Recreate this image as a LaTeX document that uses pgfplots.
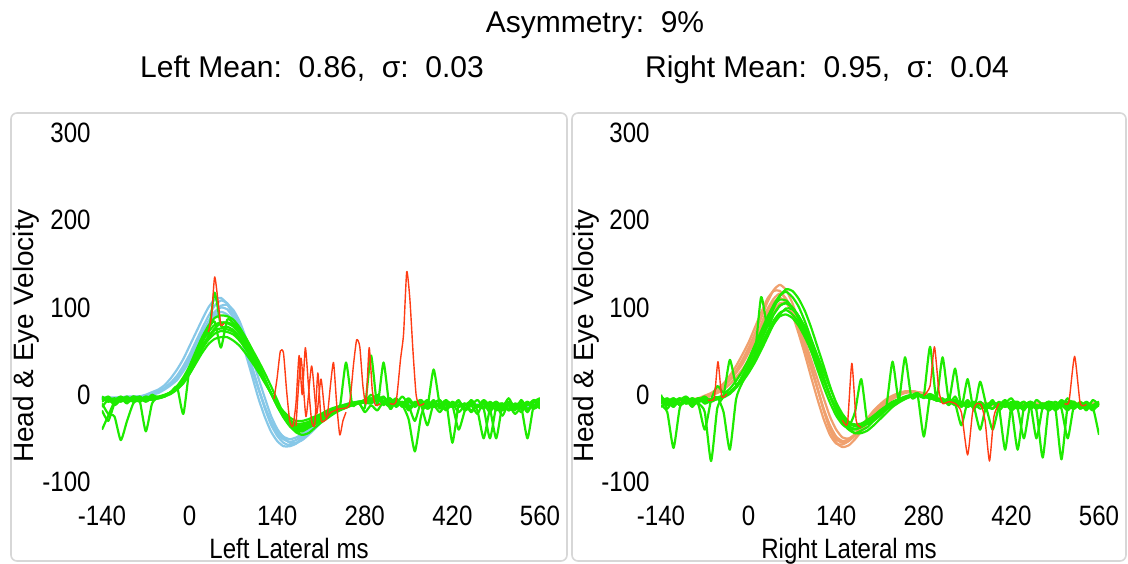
\documentclass[border=0pt]{standalone}
\usepackage{pgfplots}
\pgfplotsset{compat=1.18}
\usepackage{pgfplotstable}
\usepackage{fontspec}
\setmainfont{Liberation Sans}
\newfontfamily\tickfont{Liberation Sans}[FakeStretch=0.86]
\definecolor{eyegreen}{RGB}{30,235,0}
\definecolor{headblue}{RGB}{135,200,232}
\definecolor{headorange}{RGB}{240,160,110}
\definecolor{sacred}{RGB}{255,60,20}
\definecolor{boxgray}{RGB}{215,215,215}

\pgfplotstableread{
t b1 b2 b3 b4 b5 g1 g2 g3 g4 g5 g6 g7 g8
-140 -4 -4 -5 -4 -3 -10 -2 -40 -6 -14 -8 -18 -4
-130 -4 -4 -5 -4 -3 -22 -6 -24 -2 -6 -4 -30 -8
-120 -4 -4 -4 -4 -3 -25 -4 -8 -8 -10 -12 -10 -6
-110 -3 -3 -4 -3 -3 -52 -8 -4 -4 -4 -6 -6 -2
-100 -3 -3 -3 -3 -2 -30 -4 -10 -6 -8 -2 -4 -6
-90 -3 -3 -3 -3 -2 -10 -6 -2 -2 -6 -8 -8 -4
-80 -2 -2 -2 -2 -2 -4 -6 -6 -4 -2 -4 -6 -8
-70 -1 -1 0 -2 -1 -6 -42 -4 -8 -6 -6 -2 -4
-60 1 1 3 0 1 -2 -10 -6 -4 0 -2 -4 -6
-50 4 4 6 2 4 -2 -3 -3 -4 -4 -3 -3 -4
-40 8 7 11 6 7 0 -1 -1 -2 -2 -1 -1 -2
-30 14 13 19 11 12 3 3 3 2 3 3 3 1
-20 22 20 29 17 19 9 8 10 7 9 9 8 6
-10 33 31 41 27 29 18 16 20 14 17 -22 17 13
0 46 43 56 38 40 30 26 33 24 28 31 28 24
10 61 57 71 52 54 45 40 50 36 43 47 41 37
20 76 71 86 66 67 60 53 66 48 57 63 55 52
30 90 84 100 81 79 72 63 79 58 68 76 66 66
40 102 95 109 93 90 80 70 88 64 117 84 74 76
50 108 100 111 102 95 83 73 91 66 79 54 76 82
60 105 98 104 103 92 82 72 90 66 78 86 75 83
70 95 88 90 97 84 78 69 86 62 74 82 72 80
80 78 73 70 84 69 70 62 77 56 66 74 64 74
90 56 52 46 65 49 59 52 65 47 56 62 54 65
100 32 30 21 43 28 46 40 51 37 44 48 42 52
110 8 7 -4 19 7 32 28 35 26 30 34 29 39
120 -15 -14 -25 -3 -13 17 15 19 14 16 18 16 25
130 -34 -32 -42 -24 -30 2 2 2 2 2 2 2 10
140 -47 -44 -53 -39 -41 -12 -11 -13 -10 -11 -13 -11 -6
150 -55 -51 -59 -49 -48 -24 -21 -26 -19 -23 -25 -22 -22
160 -58 -54 -59 -55 -51 -33 -29 -36 -26 -31 -35 -30 -35
170 -56 -52 -56 -55 -49 -38 -33 -42 -30 -36 -40 -35 -43
180 -51 -47 -49 -52 -45 -38 -33 -42 -30 -36 -40 -35 -46
190 -44 -41 -42 -46 -39 -35 -31 -38 -28 -33 -37 -32 -44
200 -37 -34 -35 -39 -33 -31 -27 -34 -25 -29 -33 -29 -38
210 -30 -28 -28 -32 -26 -27 -24 -30 -22 -26 -28 -25 -32
220 -24 -22 -22 -26 -21 -23 -20 -25 -18 -22 -24 -21 -27
230 -19 -18 -18 -21 -17 -19 -17 -21 -15 -18 -20 -17 -22
240 -15 -14 -14 -16 -13 -16 -14 -17 -13 -15 -16 -14 -18
250 -12 -11 -11 -13 -11 -13 -12 -14 -11 37 -13 -12 -15
260 -10 -9 -10 -11 -9 -11 -10 -12 -9 -12 -11 -10 -12
270 -9 -8 -9 -9 -8 -9 -8 -10 -8 -8 -9 -9 -10
280 -8 -7 -8 -8 -7 -6 -7 -8 -7 -20 -15 -8 -9
290 -8 -8 -9 -8 -8 -8 -6 0 -4 -12 45 -8 -10
300 -9 -8 -9 -9 -8 -2 0 -6 -8 -18 -12 -4 -4
310 -9 -9 -10 -9 -8 -12 -8 -2 -4 -8 37 -10 -8
320 -10 -9 -10 -9 -9 -4 -4 -10 -12 -12 -16 -6 -14
330 -10 -9 -10 -10 -9 -14 -10 -4 -6 -6 -6 -12 -6
340 -10 -10 -11 -10 -9 -8 -2 -12 -10 -14 -12 -8 -10
350 -10 -10 -11 -10 -9 -18 -12 -6 -4 -8 -28 -14 -16
360 -11 -10 -11 -10 -10 -10 -30 -14 -12 -12 -65 -10 -8
370 -11 -10 -11 -11 -10 -6 -8 -8 -6 -10 -24 -12 -12
380 -11 -10 -12 -11 -10 -16 -14 -16 -14 -14 -8 -35 -6
390 -11 -10 -12 -11 -10 -12 -6 -10 -8 29 -14 -10 -14
400 -11 -11 -12 -11 -10 -20 -16 -6 -12 -12 -10 -14 -10
410 -12 -11 -12 -11 -10 -10 -8 -16 -6 -16 -16 -8 -18
420 -12 -11 -12 -12 -11 -14 -12 -10 -14 -8 -12 -55 -8
430 -12 -11 -13 -12 -11 -6 -40 -20 -8 -14 -8 -12 -14
440 -12 -11 -13 -12 -11 -18 -18 -12 -16 -10 -18 -16 -10
450 -12 -11 -13 -12 -11 -12 -6 -8 -10 -18 -12 -10 -20
460 -12 -12 -13 -12 -11 -22 -14 -18 -14 -12 -6 -14 -12
470 -12 -12 -13 -12 -11 -8 -10 -50 -6 -16 -14 -8 -16
480 -12 -12 -13 -12 -11 -16 -20 -16 -12 -8 -10 -16 -50
490 -12 -12 -13 -12 -11 -12 -8 -10 -8 -14 -18 -50 -14
500 -12 -12 -13 -12 -11 -24 -14 -18 -16 -10 -12 -12 -10
510 -12 -12 -13 -12 -11 -10 -4 -12 -10 -18 -8 -16 -18
520 -12 -12 -13 -12 -11 -18 -16 -22 -14 -12 -16 -10 -12
530 -12 -12 -13 -12 -11 -6 -10 -14 -8 -16 -12 -14 -20
540 -12 -12 -13 -12 -11 -16 -20 -8 -12 -8 -18 -50 -10
550 -12 -12 -13 -12 -11 -12 -8 -16 -6 -14 -8 -12 -16
560 -12 -12 -13 -12 -11 -8 -12 -4 -10 -10 -4 -16 -12
}\leftdata

\pgfplotstableread{
t o1 o2 o3 o4 o5 h1 h2 h3 h4 h5 h6 h7 h8
-140 -8 -7 -9 -8 -6 0 -12 -4 -10 -6 -14 -2 -8
-130 -8 -7 -9 -8 -6 -16 -20 -10 -6 -12 -8 -8 -4
-120 -8 -7 -9 -8 -6 -4 -61 -6 -12 -8 -4 -14 -10
-110 -7 -6 -8 -7 -6 -12 -15 -12 -4 -4 -10 -6 -6
-100 -7 -6 -8 -7 -5 -6 -4 -8 -10 -10 -6 -10 -2
-90 -6 -6 -7 -6 -5 -14 -10 -4 -8 -6 -12 -4 -8
-80 -5 -5 -7 -4 -4 -4 -6 -10 -4 -12 -8 -8 -4
-70 -3 -3 -5 -1 -3 -10 -2 -20 -8 -40 -4 -6 -10
-60 0 0 -1 2 0 -5 -8 -76 -5 -6 -7 -5 -7
-50 4 4 2 7 4 -4 -4 -15 -3 10 -5 -3 -5
-40 10 9 6 13 9 -1 -1 -1 -20 2 -2 -1 -3
-30 18 17 12 22 16 3 3 40 -63 7 3 3 1
-20 28 26 20 33 25 10 9 11 -5 16 9 10 8
-10 40 37 29 46 35 20 18 22 14 27 18 20 17
0 54 50 40 60 48 32 28 36 25 41 29 32 30
10 70 64 53 77 62 46 40 52 37 57 42 46 45
20 88 81 67 94 77 62 55 69 51 73 57 112 63
30 106 98 82 110 93 78 69 87 66 89 72 78 81
40 120 110 96 119 106 92 81 103 81 102 85 92 99
50 126 116 105 119 111 102 90 114 92 109 94 102 113
60 120 110 105 109 106 105 92 118 99 108 97 105 121
70 105 97 96 92 92 100 88 112 98 100 92 100 119
80 84 77 80 70 74 90 79 101 90 87 83 90 110
90 60 55 61 46 53 75 66 84 78 70 69 75 96
100 34 31 40 20 30 57 50 64 63 50 52 57 77
110 8 7 18 -5 7 38 33 43 45 29 35 38 55
120 -18 -17 -4 -28 -16 18 16 20 27 9 17 18 33
130 -40 -37 -25 -46 -35 -1 -1 -1 8 -9 -1 -1 10
140 -55 -51 -40 -56 -48 -17 -15 -19 -9 -24 -16 -17 -10
150 -60 -55 -49 -57 -53 -29 -26 -32 -22 -34 -27 -29 -27
160 -58 -53 -50 -53 -51 -36 -32 -40 -31 -39 -33 -36 -38
170 -51 -47 -46 -45 -45 -39 -34 -44 -36 -40 -36 -20 -44
180 -42 -39 -40 -36 -37 -37 -33 -41 -36 -37 -34 18 -44
190 -32 -29 -31 -27 -28 -33 -29 -37 -33 -32 -30 -33 -41
200 -23 -21 -23 -18 -20 -27 -24 -30 -29 -25 -25 -27 -35
210 -15 -14 -16 -11 -13 -21 -18 -24 -23 -19 -19 -21 -28
220 -8 -7 -10 -5 -7 -15 -13 -17 -17 -13 -14 -15 -21
230 -3 -3 -5 -1 -3 -10 -9 -11 -12 -8 38 -10 -14
240 1 1 -1 2 1 -6 -5 -7 -8 -5 -6 -6 -9
250 3 3 2 4 3 -3 -3 -3 -4 -2 43 -3 -5
260 4 4 3 4 4 -1 -1 -1 -2 0 -3 -1 -2
270 3 3 3 2 3 2 0 0 0 0 -1 0 0
280 1 1 2 -1 1 -4 -2 -1 -48 -2 -2 -2 -1
290 -2 -2 0 -4 -2 1 -4 55 -1 -4 -3 -4 -2
300 -5 -5 -3 -6 -4 -7 -6 -5 -4 -6 -6 -6 -4
310 -7 -6 -5 -8 -6 -4 -8 43 -6 -8 -7 -8 -6
320 -9 -8 -7 -9 -8 -12 -8 -6 -6 -8 -10 -4 -6
330 -10 -9 -8 -10 -9 -2 -10 30 -8 -12 -6 -10 -8
340 -11 -10 -9 -11 -10 -14 -35 -14 -12 -12 -10 -8 -12
350 -11 -10 -10 -11 -10 -6 -8 18 -10 -10 -14 -14 -10
360 -11 -10 -11 -12 -10 -16 -14 -18 -14 -14 -8 -10 -14
370 -11 -10 -11 -12 -10 -8 -10 15 -8 -12 -12 -16 -40
380 -11 -10 -11 -12 -10 -14 -16 -12 -16 -16 -16 -12 -12
390 -11 -10 -11 -12 -10 -6 -40 -16 -10 -10 -10 -8 -16
400 -11 -10 -11 -12 -10 -18 -14 -8 -14 -14 -12 -14 -10
410 -11 -10 -11 -12 -10 -10 -8 -14 -63 -8 -6 -10 -14
420 -11 -10 -11 -12 -10 -4 -16 -10 -12 -16 -14 -18 -8
430 -11 -10 -11 -12 -10 -14 -12 -16 -8 -63 -10 -12 -16
440 -11 -10 -11 -12 -10 -8 -18 -12 -14 -14 -16 -8 -50
450 -11 -10 -11 -12 -10 -16 -10 -8 -10 -10 -8 -16 -12
460 -11 -10 -11 -12 -10 -6 -50 -14 -16 -18 -12 -12 -16
470 -11 -10 -11 -12 -10 -12 -14 -10 -12 -72 -16 -14 -10
480 -11 -10 -11 -12 -10 -18 -8 -18 -8 -12 -10 -10 -14
490 -11 -10 -11 -12 -10 -8 -16 -12 -14 -16 -14 -18 -8
500 -11 -10 -11 -12 -10 -14 -12 -8 -74 -10 -6 -12 -16
510 -11 -10 -11 -12 -10 -4 -18 -16 -12 -14 -12 -8 -50
520 -11 -10 -11 -12 -10 -16 -10 -10 -8 -8 -16 -14 -12
530 -11 -10 -11 -12 -10 -10 -14 -14 -16 -16 -8 -10 -14
540 -11 -10 -11 -12 -10 -18 -8 -8 -10 -12 -14 -16 -10
550 -11 -10 -11 -12 -10 -6 -16 -14 -14 -18 -14 -12 -16
560 -11 -10 -11 -12 -10 -12 -10 -10 -8 -10 -46 -8 -12
}\rightdata

\pgfplotsset{panel/.style={
  scale only axis, width=219pt, height=174.5pt,
  xmin=-140, xmax=560, ymin=-100, ymax=300,
  xtick={-140,0,140,280,420,560}, ytick={-100,0,100,200,300},
  axis line style={draw=none}, major tick length=0pt,
  tick style={draw=none},
  /pgf/number format/assume math mode=true,
  tick label style={font=\tickfont\fontsize{14}{16}\selectfont},
  xticklabel style={anchor=base, yshift=-21.5pt, inner sep=0pt},
  yticklabel style={anchor=east, xshift=-5.5pt, inner sep=0pt},
  no markers,
  every axis plot/.append style={line width=1.1pt, line join=round, smooth, tension=0.35},
}}

\begin{document}
\begin{tikzpicture}
\useasboundingbox (0,0) rectangle (564pt,281.5pt);
\draw[boxgray, line width=0.8pt, rounded corners=3pt] (5.5pt,1pt) rectangle (283.5pt,225pt);
\draw[boxgray, line width=0.8pt, rounded corners=3pt] (286pt,1pt) rectangle (563pt,225pt);

\node[anchor=base, font=\fontsize{15}{18}\selectfont] at (297.5pt,265pt) {Asymmetry:\ \ 9\%};
\node[anchor=base, font=\fontsize{15}{18}\selectfont] at (156pt,242.5pt) {Left Mean:\ \ 0.86,\ \ σ:\ \ 0.03};
\node[anchor=base, font=\fontsize{15}{18}\selectfont] at (413.5pt,242.5pt) {Right Mean:\ \ 0.95,\ \ σ:\ \ 0.04};

\begin{axis}[panel, at={(51pt,40.5pt)}, anchor=south west]
\foreach \c in {b1,b2,b3,b4,b5}{\addplot[headblue] table[x=t,y=\c]{\leftdata};}
\foreach \c in {g1,g2,g3,g4,g5,g6,g7,g8}{\addplot[eyegreen] table[x=t,y=\c]{\leftdata};}
\addplot[sacred, line width=0.7pt] coordinates {(135,-5) (140,20) (145,50) (150,48) (155,5) (160,-30) (165,-36) (170,-10) (175,45) (180,0) (185,54) (190,10) (195,-30) (200,-34) (205,25) (210,-28) (215,-30) (220,-25) (225,10) (230,37) (235,-10) (240,-46) (245,-30) (250,-20)};
\addplot[sacred, line width=0.7pt] coordinates {(170,-36) (178,42) (186,-25) (195,33) (203,-22) (210,18) (217,-25) (226,-20) (240,-16) (255,-12) (262,35) (267,63) (272,55) (277,10) (282,-10) (287,54) (292,5) (297,-12) (305,-10)};
\addplot[sacred, line width=0.7pt] coordinates {(30,72) (35,90) (40,135) (45,110) (50,80) (55,82)};
\addplot[sacred, line width=0.7pt] coordinates {(320,-10) (330,-8) (337,40) (342,70) (347,141) (352,110) (357,50) (362,0) (367,-12) (375,-10)};
\end{axis}

\begin{axis}[panel, at={(330.5pt,40.5pt)}, anchor=south west]
\foreach \c in {o1,o2,o3,o4,o5}{\addplot[headorange] table[x=t,y=\c]{\rightdata};}
\foreach \c in {h1,h2,h3,h4,h5,h6,h7,h8}{\addplot[eyegreen] table[x=t,y=\c]{\rightdata};}
\addplot[sacred, line width=0.7pt] coordinates {(-65,-6) (-55,-4) (-49,38) (-43,-2) (-35,1)};
\addplot[sacred, line width=0.7pt] coordinates {(150,-29) (158,-33) (165,36) (172,-30) (180,-37)};
\addplot[sacred, line width=0.7pt] coordinates {(280,-1) (290,10) (297,55) (304,5) (310,-10) (320,-8) (330,-10) (340,-20) (350,-69) (358,-20) (365,-10) (372,-12) (378,-30) (385,-76) (392,-25) (400,-10)};
\addplot[sacred, line width=0.7pt] coordinates {(505,-10) (512,-8) (521,44) (530,-10) (540,-11)};
\end{axis}

\node[rotate=90, font=\fontsize{14}{16}\selectfont] at (13pt,113.5pt) {Head \& Eye Velocity};
\node[rotate=90, font=\fontsize{14}{16}\selectfont] at (293pt,113.5pt) {Head \& Eye Velocity};
\node[anchor=base, font=\tickfont\fontsize{14}{16}\selectfont] at (144.5pt,2.5pt) {Left Lateral ms};
\node[anchor=base, font=\tickfont\fontsize{14}{16}\selectfont] at (424.5pt,2.5pt) {Right Lateral ms};
\end{tikzpicture}
\end{document}
